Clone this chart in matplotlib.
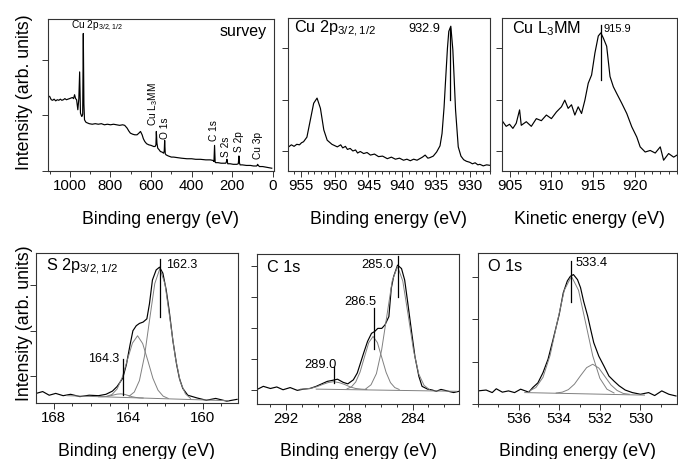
import matplotlib
matplotlib.use("Agg")
import matplotlib.pyplot as plt
from matplotlib.ticker import MultipleLocator, FixedLocator

plt.rcParams['font.family'] = ['Liberation Sans', 'DejaVu Sans']
plt.rcParams['mathtext.fontset'] = 'custom'
plt.rcParams['mathtext.rm'] = 'Liberation Sans'

# ---- survey spectrum (binding energy, eV / intensity, arb.)
survey_be = [1100, 1092, 1085, 1078, 1070, 1062, 1055, 1047, 1040, 1032, 1025, 1017, 1010,
             1002, 995, 988, 982, 977, 972, 967, 961, 956, 952, 948, 944, 941, 937, 934,
             931, 928, 922, 918, 905, 890, 875, 860, 845, 830, 815, 800, 785, 770, 755,
             740, 730, 718, 710, 702, 690, 680, 669, 660, 652, 644, 638, 631, 622, 611,
             600, 587, 580, 576, 574, 571, 567, 560, 554, 546, 538, 535, 533, 530, 526,
             515, 500, 489, 470, 450, 423, 400, 380, 357, 330, 308, 295, 290, 287, 284,
             282, 270, 255, 243, 232, 229, 226, 222, 210, 195, 177, 170, 167, 164, 161,
             150, 130, 110, 95, 80, 77, 75, 71, 66, 50, 35, 20, 5]
survey_int = [1.34, 1.28, 1.27, 1.29, 1.26, 1.28, 1.27, 1.29, 1.27, 1.28, 1.30, 1.28, 1.29,
              1.30, 1.31, 1.32, 1.30, 1.37, 1.30, 1.28, 1.10, 1.30, 1.78, 1.04, 1.00, 0.98,
              1.02, 2.47, 1.20, 0.92, 0.88, 0.87, 0.85, 0.84, 0.85, 0.84, 0.85, 0.83, 0.84,
              0.83, 0.84, 0.83, 0.82, 0.83, 0.82, 0.77, 0.72, 0.68, 0.66, 0.65, 0.65, 0.68,
              0.71, 0.65, 0.58, 0.53, 0.49, 0.47, 0.46, 0.44, 0.44, 0.47, 0.71, 0.50, 0.41,
              0.38, 0.35, 0.34, 0.32, 0.36, 0.55, 0.31, 0.29, 0.27, 0.25, 0.25, 0.24, 0.23,
              0.22, 0.22, 0.21, 0.21, 0.20, 0.20, 0.19, 0.17, 0.46, 0.16, 0.15, 0.15, 0.14,
              0.14, 0.14, 0.16, 0.21, 0.13, 0.13, 0.12, 0.12, 0.13, 0.27, 0.14, 0.11, 0.11,
              0.10, 0.10, 0.09, 0.09, 0.10, 0.12, 0.10, 0.08, 0.08, 0.07, 0.06, 0.05]
survey_peaks = ['Cu L$_\\mathregular{3}$MM', 'O 1s', 'C 1s', 'S 2s', 'S 2p', 'Cu 3p']
survey_peak_x = [590, 533, 292, 233, 167, 74]
survey_peak_y = [0.80, 0.57, 0.53, 0.26, 0.35, 0.21]

# ---- Cu 2p
cu2p_be = [956.8, 956.4, 956.0, 955.6, 955.2, 954.9, 954.6, 954.1, 953.6, 953.1, 952.6,
           952.1, 951.6, 951.1, 950.4, 949.6, 949.1, 948.8, 948.4, 948.1, 947.7, 947.3,
           946.9, 946.6, 946.2, 945.7, 945.2, 944.7, 944.1, 943.5, 942.9, 942.2, 941.6,
           941.0, 940.4, 939.8, 939.3, 938.8, 938.3, 937.8, 937.4, 937.0, 936.6, 936.2,
           935.9, 935.4, 934.9, 934.4, 934.1, 933.8, 933.6, 933.3, 933.1, 932.8, 932.5,
           932.3, 932.1, 931.7, 931.3, 930.9, 930.5, 930.0, 929.6, 929.2, 928.8, 928.5,
           928.0, 927.5, 927.0]
cu2p_int = [1.08, 1.12, 1.09, 1.13, 1.12, 1.16, 1.18, 1.27, 1.60, 1.93, 2.03,
            1.83, 1.41, 1.21, 1.13, 1.08, 1.12, 1.06, 1.09, 1.03, 1.05, 1.00,
            1.02, 0.96, 0.99, 0.95, 0.97, 0.92, 0.94, 0.89, 0.90, 0.85, 0.88,
            0.84, 0.86, 0.82, 0.84, 0.81, 0.84, 0.82, 0.85, 0.88, 0.92, 0.86,
            0.87, 0.90, 0.98, 1.10, 1.34, 1.85, 2.32, 3.00, 3.33, 3.43, 2.97,
            2.40, 1.80, 1.08, 0.90, 0.83, 0.80, 0.78, 0.75, 0.77, 0.73, 0.74,
            0.71, 0.73, 0.72]

# ---- Cu L3MM (kinetic energy)
culmm_ke = [904.2, 904.6, 905.0, 905.4, 905.8, 906.2, 906.4, 907.0, 907.6, 908.2, 908.8,
            909.4, 910.0, 910.6, 911.2, 911.6, 912.0, 912.4, 912.8, 913.2, 913.6, 914.0,
            914.4, 914.8, 915.2, 915.6, 915.9, 916.2, 916.6, 917.0, 917.4, 917.8, 918.4,
            919.0, 919.6, 920.2, 920.6, 921.2, 921.8, 922.4, 923.0, 923.4, 924.0, 924.6,
            925.0]
culmm_int = [1.57, 1.48, 1.52, 1.44, 1.54, 1.80, 1.50, 1.57, 1.48, 1.63, 1.59,
             1.70, 1.63, 1.76, 1.86, 1.99, 1.83, 1.90, 1.70, 1.86, 1.73, 1.99,
             2.32, 2.48, 2.91, 3.24, 3.30, 3.20, 3.04, 2.45, 2.25, 2.12, 1.93,
             1.73, 1.47, 1.27, 1.08, 0.98, 1.01, 0.96, 1.08, 0.82, 0.95, 0.88,
             0.92]

# ---- S 2p
s2p_be = [168.95, 168.6, 168.25, 167.9, 167.5, 167.1, 166.6, 166.1, 165.6, 165.2, 164.85,
          164.6, 164.3, 164.1, 163.9, 163.75, 163.57, 163.4, 163.2, 163.0, 162.86, 162.7,
          162.5, 162.32, 162.14, 161.96, 161.8, 161.6, 161.4, 161.25, 161.07, 160.8, 160.3,
          159.8, 159.3, 158.7, 158.15]
s2p_int = [0.63, 0.67, 0.59, 0.63, 0.58, 0.61, 0.56, 0.59, 0.58, 0.61, 0.68,
           0.78, 0.96, 1.26, 1.70, 2.00, 2.11, 2.16, 2.19, 2.26, 2.59, 3.11,
           3.33, 3.39, 3.26, 2.89, 2.44, 1.78, 1.26, 0.96, 0.74, 0.59, 0.53,
           0.48, 0.52, 0.46, 0.50]
s2p_fit1_be = [163.95, 163.675, 163.4, 163.125, 162.85, 162.575, 162.3, 162.025, 161.75,
               161.475, 161.2, 160.925, 160.65]
s2p_fit1 = [0.57, 0.66, 0.91, 1.45, 2.25, 3.03, 3.36, 3.02, 2.23, 1.43, 0.88, 0.62, 0.52]
s2p_fit2_be = [165.15, 164.875, 164.6, 164.325, 164.05, 163.775, 163.5, 163.225, 162.95,
               162.675, 162.4, 162.125, 161.85]
s2p_fit2 = [0.565, 0.606, 0.727, 0.98, 1.36, 1.73, 1.89, 1.72, 1.35, 0.96, 0.70, 0.57, 0.52]
s2p_fit3_be = [165.6, 165.4, 165.2, 165.0, 164.8, 164.6, 164.4, 164.2, 164.0, 163.8, 163.6,
               163.4, 163.2]
s2p_fit3 = [0.557, 0.557, 0.562, 0.574, 0.594, 0.614, 0.620, 0.609, 0.584, 0.558, 0.542,
            0.532, 0.529]
s2p_bg_be = [167.3, 158.6]
s2p_bg = [0.58, 0.47]

# ---- C 1s
c1s_be = [293.8, 293.45, 293.0, 292.6, 292.2, 291.75, 291.3, 290.9, 290.5, 290.1, 289.75,
          289.4, 289.1, 288.75, 288.4, 288.1, 287.75, 287.5, 287.3, 287.1, 286.85, 286.6,
          286.4, 286.2, 285.95, 285.75, 285.5, 285.35, 285.2, 284.95, 284.7, 284.5, 284.3,
          284.05, 283.85, 283.6, 283.4, 283.05, 282.75, 282.5, 282.2, 281.95, 281.65,
          281.4, 281.06]
c1s_int = [0.03, 0.12, 0.05, 0.10, 0.01, 0.08, -0.01, 0.03, 0.05, 0.12, 0.20,
           0.28, 0.31, 0.35, 0.25, 0.20, 0.33, 0.55, 0.87, 1.19, 1.57, 1.83,
           1.89, 1.99, 1.99, 2.10, 2.37, 3.28, 3.66, 4.03, 3.92, 3.55, 2.80,
           1.83, 1.08, 0.44, 0.12, 0.03, 0.00, -0.04, 0.02, -0.01, -0.05,
           -0.08, -0.04]
c1s_fit1_be = [286.96, 286.63, 286.29, 285.96, 285.62, 285.29, 284.95, 284.62, 284.28,
               283.94, 283.61, 283.27, 282.94]
c1s_fit1 = [0.04, 0.17, 0.53, 1.29, 2.42, 3.52, 3.99, 3.52, 2.42, 1.28, 0.52, 0.15, 0.02]
c1s_fit2_be = [288.15, 287.875, 287.6, 287.325, 287.05, 286.775, 286.5, 286.225, 285.95,
               285.675, 285.4, 285.125, 284.85]
c1s_fit2 = [0.04, 0.10, 0.26, 0.58, 1.06, 1.53, 1.73, 1.53, 1.05, 0.57, 0.24, 0.08, 0.02]
c1s_fit3_be = [291.1, 290.75, 290.4, 290.05, 289.7, 289.35, 289.0, 288.65, 288.3, 287.95,
               287.6, 287.25, 286.9]
c1s_fit3 = [0.03, 0.04, 0.06, 0.11, 0.18, 0.24, 0.27, 0.24, 0.18, 0.10, 0.05, 0.03, 0.02]
c1s_bg_be = [290.1, 281.2]
c1s_bg = [0.03, -0.04]

# ---- O 1s
o1s_be = [538.0, 537.6, 537.3, 537.1, 536.8, 536.5, 536.2, 535.9, 535.5, 535.3, 535.05,
          534.8, 534.55, 534.3, 534.0, 533.8, 533.6, 533.45, 533.3, 533.1, 532.95, 532.8,
          532.6, 532.45, 532.3, 532.05, 531.8, 531.55, 531.3, 531.05, 530.75, 530.4,
          530.0, 529.6, 529.3, 528.95, 528.6, 528.25]
o1s_int = [0.31, 0.33, 0.27, 0.36, 0.28, 0.31, 0.27, 0.35, 0.28, 0.39, 0.50,
           0.74, 1.06, 1.53, 2.12, 2.63, 2.91, 3.02, 3.06, 2.94, 2.75, 2.43,
           2.08, 1.76, 1.45, 1.13, 0.90, 0.66, 0.54, 0.43, 0.33, 0.27,
           0.23, 0.27, 0.20, 0.31, 0.23, 0.19]
o1s_fit1_be = [535.5, 535.15, 534.8, 534.45, 534.1, 533.75, 533.4, 533.05, 532.7, 532.35,
               532.0, 531.65, 531.3]
o1s_fit1 = [0.30, 0.39, 0.63, 1.15, 1.93, 2.69, 3.02, 2.69, 1.92, 1.14, 0.61, 0.35, 0.26]
o1s_fit2_be = [534.15, 533.85, 533.55, 533.25, 532.95, 532.65, 532.35, 532.05, 531.75,
               531.45, 531.15, 530.85, 530.55]
o1s_fit2 = [0.26, 0.28, 0.34, 0.47, 0.67, 0.86, 0.94, 0.85, 0.65, 0.45, 0.32, 0.25, 0.23]
o1s_bg_be = [535.7, 529.8]
o1s_bg = [0.27, 0.21]

W, H = 678, 459
fig = plt.figure(figsize=(W / 100, H / 100), dpi=100)


def panel(x0, y0, x1, y1):
    return fig.add_axes([x0 / W, 1 - y1 / H, (x1 - x0) / W, (y1 - y0) / H])


def style(ax, xlim, ylim, labels, minor, yt, xlabel, lab_y):
    ax.set_xlim(*xlim)
    ax.set_ylim(*ylim)
    ax.xaxis.set_major_locator(FixedLocator(labels))
    ax.xaxis.set_minor_locator(MultipleLocator(minor))
    ax.yaxis.set_major_locator(FixedLocator(yt))
    ax.set_yticklabels([])
    ax.tick_params(axis='both', which='major', direction='out', length=4, width=0.7,
                   color='#333333', labelsize=10.8, pad=2)
    ax.tick_params(axis='x', which='minor', direction='out', length=2.5, width=0.7,
                   color='#333333')
    for s in ax.spines.values():
        s.set_linewidth(0.8)
        s.set_color('#333333')
    ax.set_xlabel(xlabel, fontsize=12.8)
    ax.xaxis.set_label_coords(0.5, lab_y)


line_kw = dict(color='black', lw=0.85)
fit_kw = dict(color='#808080', lw=0.7)
mark_kw = dict(color='black', lw=0.9)

# survey
ax1 = panel(48, 19, 274, 171)
ax1.plot(survey_be, survey_int, **line_kw)
style(ax1, (1108, -6), (0, 2.73), [0, 200, 400, 600, 800, 1000], 100, [0, 1, 2],
      'Binding energy (eV)', -0.26)
ax1.text(997, 2.60, 'Cu 2p$_\\mathregular{3/2,1/2}$', fontsize=7.3, va='center')
ax1.text(30, 2.50, 'survey', fontsize=11.5, ha='right', va='center')
for name, px, py in zip(survey_peaks, survey_peak_x, survey_peak_y):
    ax1.text(px, py, name, rotation=90, fontsize=7.3, ha='center', va='bottom')

# Cu 2p
ax2 = panel(288, 18, 490, 171)
ax2.plot(cu2p_be, cu2p_int, **line_kw)
style(ax2, (956.9, 927.0), (0.61, 3.59), [930, 935, 940, 945, 950, 955], 1, [1, 2, 3],
      'Binding energy (eV)', -0.26)
ax2.plot([932.9, 932.9], [3.40, 2.00], **mark_kw)
ax2.text(934.4, 3.37, '932.9', fontsize=9.2, ha='right', va='center')
ax2.text(0.03, 0.93, 'Cu 2p$_\\mathregular{3/2,1/2}$', transform=ax2.transAxes,
         fontsize=11.7, va='center')

# Cu L3MM
ax3 = panel(502, 18, 677, 171)
ax3.plot(culmm_ke, culmm_int, **line_kw)
style(ax3, (904.1, 925.0), (0.61, 3.59), [905, 910, 915, 920], 1, [1, 2, 3],
      'Kinetic energy (eV)', -0.26)
ax3.plot([915.9, 915.9], [3.46, 2.39], **mark_kw)
ax3.text(916.2, 3.38, '915.9', fontsize=8, ha='left', va='center')
ax3.text(0.06, 0.93, 'Cu L$_\\mathregular{3}$MM', transform=ax3.transAxes,
         fontsize=11.7, va='center')

# S 2p
ax4 = panel(36, 253, 238, 403)
ax4.plot(s2p_be, s2p_int, **line_kw)
for bx, by in [(s2p_fit1_be, s2p_fit1), (s2p_fit2_be, s2p_fit2),
               (s2p_fit3_be, s2p_fit3), (s2p_bg_be, s2p_bg)]:
    ax4.plot(bx, by, **fit_kw)
style(ax4, (168.96, 158.1), (0.42, 3.70), [160, 164, 168], 1, [1, 2, 3],
      'Binding energy (eV)', -0.27)
ax4.plot([162.3, 162.3], [3.56, 2.31], **mark_kw)
ax4.text(161.96, 3.44, '162.3', fontsize=9, ha='left', va='center')
ax4.plot([164.3, 164.3], [1.39, 0.59], **mark_kw)
ax4.text(164.5, 1.39, '164.3', fontsize=9, ha='right', va='center')
ax4.text(0.05, 0.91, 'S 2p$_\\mathregular{3/2,1/2}$', transform=ax4.transAxes,
         fontsize=11.7, va='center')

# C 1s
ax5 = panel(257, 254, 459, 404)
ax5.plot(c1s_be, c1s_int, **line_kw)
for bx, by in [(c1s_fit1_be, c1s_fit1), (c1s_fit2_be, c1s_fit2),
               (c1s_fit3_be, c1s_fit3), (c1s_bg_be, c1s_bg)]:
    ax5.plot(bx, by, **fit_kw)
style(ax5, (293.85, 281.06), (-0.45, 4.39), [284, 288, 292], 1, [0, 1, 2, 3, 4],
      'Binding energy (eV)', -0.26)
ax5.plot([284.95, 284.95], [4.32, 3.01], **mark_kw)
ax5.text(285.2, 4.05, '285.0', fontsize=9.3, ha='right', va='center')
ax5.plot([286.43, 286.43], [2.64, 1.32], **mark_kw)
ax5.text(287.28, 2.85, '286.5', fontsize=9.3, ha='center', va='center')
ax5.plot([288.96, 288.96], [0.76, 0.23], **mark_kw)
ax5.text(289.85, 0.82, '289.0', fontsize=9.3, ha='center', va='center')
ax5.text(0.05, 0.91, 'C 1s', transform=ax5.transAxes, fontsize=11.7, va='center')

# O 1s
ax6 = panel(478, 253, 677, 404)
ax6.plot(o1s_be, o1s_int, **line_kw)
for bx, by in [(o1s_fit1_be, o1s_fit1), (o1s_fit2_be, o1s_fit2), (o1s_bg_be, o1s_bg)]:
    ax6.plot(bx, by, **fit_kw)
style(ax6, (538.0, 528.2), (0.0, 3.57), [530, 532, 534, 536], 1, [0, 1, 2, 3],
      'Binding energy (eV)', -0.26)
ax6.plot([533.43, 533.43], [3.39, 2.41], **mark_kw)
ax6.text(533.19, 3.34, '533.4', fontsize=9.3, ha='left', va='center')
ax6.text(0.05, 0.91, 'O 1s', transform=ax6.transAxes, fontsize=11.7, va='center')

fig.text(25 / W, 1 - 92 / H, 'Intensity (arb. units)', rotation=90, fontsize=12.8,
         ha='center', va='center')
fig.text(25 / W, 1 - 323 / H, 'Intensity (arb. units)', rotation=90, fontsize=12.8,
         ha='center', va='center')

fig.savefig('out.png', dpi=100)
